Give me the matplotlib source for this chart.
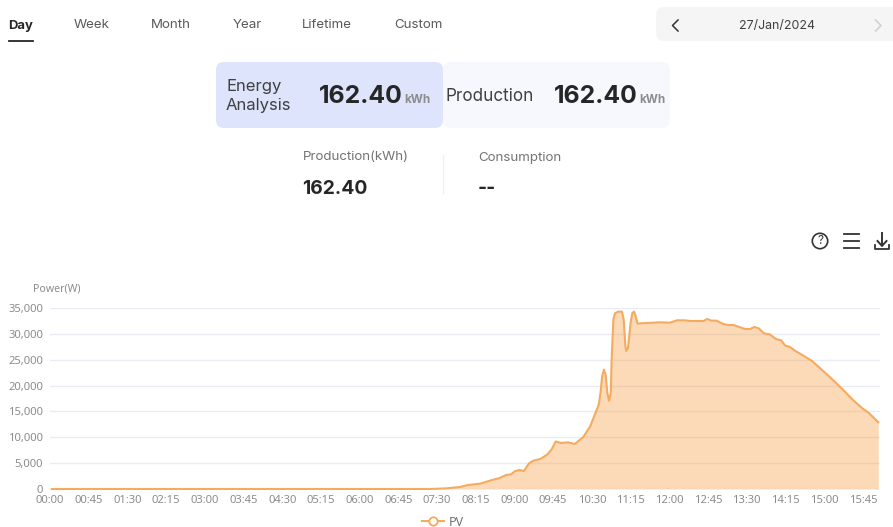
import matplotlib
matplotlib.use("Agg")
import matplotlib.pyplot as plt
from matplotlib.lines import Line2D
from matplotlib.patches import Circle, FancyBboxPatch

UI_FONT = "Inter"
CHART_FONT = "Noto Sans"

tabs = ["Day", "Week", "Month", "Year", "Lifetime", "Custom"]
tab_x = [9, 74, 151, 233, 302, 394]
date_label = "27/Jan/2024"
total = "162.40"

# minutes since midnight, power in W
minutes = [
    2, 442, 461, 477, 486, 500, 514, 523, 530, 536, 541, 546, 551, 557, 562,
    570, 578, 583, 588, 594, 602, 610, 620, 628, 638, 640, 642, 644, 646, 648,
    650, 652, 653, 655, 657, 661, 665, 667, 669, 670, 672, 675, 677, 679, 681,
    683, 694, 709, 721, 729, 738, 744, 760, 764, 769, 775, 783, 789, 795, 800,
    808, 814, 819, 824, 830, 837, 844, 850, 855, 860, 866, 876, 886, 895, 907,
    922, 934, 944, 952, 963,
]
power = [
    0, 0, 130, 390, 770, 1030, 1740, 2130, 2700, 2840, 3480, 3670, 3480, 4960,
    5480, 5800, 6640, 7600, 9200, 8900, 9020, 8700, 10050, 12100, 16300, 18560,
    21800, 23080, 22100, 18560, 17080, 18560, 25000, 32750, 34000, 34300, 34300,
    32750, 27600, 26700, 27270, 32100, 34000, 34300, 33400, 32000, 32100, 32230,
    32170, 32620, 32620, 32490, 32490, 32880, 32550, 32550, 31900, 31700, 31700,
    31400, 30940, 30940, 31330, 31070, 30100, 29900, 29000, 28750, 27700, 27500,
    26750, 25780, 24750, 23400, 21600, 19200, 17150, 15660, 14700, 12900,
]

y_ticks = [0, 5000, 10000, 15000, 20000, 25000, 30000, 35000]
x_ticks = list(range(0, 946, 45))
x_labels = ["%02d:%02d" % (m // 60, m % 60) for m in x_ticks]

W, H = 893, 527
LINE = "#F5AA5E"
FILL = "#F9A654"
GRID = "#E9ECF4"
TICK = "#8C8C8C"

fig = plt.figure(figsize=(W / 100, H / 100), dpi=100)

# page overlay in pixel coordinates
ui = fig.add_axes([0, 0, 1, 1])
ui.set_xlim(0, W)
ui.set_ylim(H, 0)
ui.axis("off")


def ui_text(x, y, s, size, color="#595959", weight="normal", ha="left"):
    ui.text(x, y, s, fontsize=size, color=color, fontweight=weight, ha=ha,
            va="center", family=UI_FONT)


def card(x0, y0, x1, y1, color, r=8):
    ui.add_patch(FancyBboxPatch((x0 + r, y0 + r), x1 - x0 - 2 * r, y1 - y0 - 2 * r,
                                boxstyle="round,pad=%d,rounding_size=%d" % (r, r),
                                fc=color, ec="none"))


for i, (name, x) in enumerate(zip(tabs, tab_x)):
    if i == 0:
        ui_text(x - 1, 25.5, name, 9.4, color="#262626", weight="bold")
    else:
        ui_text(x, 25.5, name, 9.6)
ui.plot([9, 33], [41, 41], color="#262626", lw=1.3)

card(656, 7, 905, 41, "#F5F5F6")
ui.plot([678, 672.5, 678], [20, 25.5, 31], color="#333333", lw=1.1)
ui.plot([875.5, 881, 875.5], [20, 25.5, 31], color="#CFCFCF", lw=1.1)
ui_text(777, 25.5, date_label, 8.9, color="#404040", ha="center")

card(443, 62, 670, 128, "#F7F8FE")
card(216, 62, 443, 128, "#DDE4FB")
ui_text(226, 86.5, "Energy", 12, color="#404040")
ui_text(226, 105.5, "Analysis", 12, color="#404040")
ui_text(319, 96.5, total, 17.8, color="#262626", weight="bold")
ui_text(404, 100, "kWh", 8.4, color="#8C8C8C", weight="bold")
ui_text(445.5, 96.5, "Production", 12.3, color="#404040")
ui_text(554, 96.5, total, 17.8, color="#262626", weight="bold")
ui_text(639, 100, "kWh", 8.4, color="#8C8C8C", weight="bold")

ui_text(303, 157.5, "Production(kWh)", 9.6, color="#737373")
ui_text(302, 188.5, total, 13.9, color="#262626", weight="bold")
ui.plot([443, 443], [155, 193], color="#F0F0F0", lw=1)
ui_text(478, 157.5, "Consumption", 9.6, color="#737373")
ui_text(478, 189, "--", 13.9, color="#262626", weight="bold")

# toolbar icons
ui.add_patch(Circle((820, 241), 7.7, fc="none", ec="#333333", lw=1.2))
ui_text(820, 241, "?", 8.5, color="#333333", ha="center")
for y in [234, 241, 248]:
    ui.plot([844, 859], [y, y], color="#333333", lw=1.3)
ui.plot([882, 882], [233, 245], color="#333333", lw=1.4)
ui.plot([877.5, 882, 886.5], [241, 246, 241], color="#333333", lw=1.4)
ui.plot([875, 875, 889, 889], [245, 249, 249, 245], color="#333333", lw=1.3)

ui.text(33, 289, "Power(W)", fontsize=7.6, color=TICK, va="center", family=CHART_FONT)

# chart area: 50..880 px across, 308..489 px down
ax = fig.add_axes([50 / W, 1 - 489 / H, 830 / W, 181 / H])
ax.patch.set_alpha(0)
ax.fill_between(minutes, power, 0, color=FILL, alpha=0.42, lw=0, zorder=2)
ax.plot(minutes, power, color=LINE, lw=1.5, zorder=3, clip_on=False,
        solid_joinstyle="round")
ax.set_xlim(0, 965)
ax.set_ylim(0, 35000)
ax.set_yticks(y_ticks)
ax.set_yticklabels([f"{v:,}" for v in y_ticks])
ax.set_xticks(x_ticks)
ax.set_xticklabels(x_labels)
ax.grid(True, axis="y", color=GRID, lw=1, zorder=1)
ax.set_axisbelow(True)
ax.tick_params(axis="both", length=0, labelcolor=TICK, labelsize=8.1)
ax.tick_params(axis="x", pad=4)
ax.tick_params(axis="y", pad=5)
for label in ax.get_xticklabels() + ax.get_yticklabels():
    label.set_family(CHART_FONT)
for spine in ax.spines.values():
    spine.set_visible(False)

handle = Line2D([], [], color=LINE, lw=1.5, marker="o", markersize=6,
                markerfacecolor="white", markeredgecolor=LINE, markeredgewidth=1.3)
leg = ax.legend([handle], ["PV"], loc="center", frameon=False, handlelength=1.7,
                handletextpad=0.4,
                bbox_to_anchor=((443 - 50) / 830, (489 - 522) / 181),
                prop={"family": CHART_FONT, "size": 9})
for t in leg.get_texts():
    t.set_color("#737373")

fig.savefig("out.png", dpi=100)
